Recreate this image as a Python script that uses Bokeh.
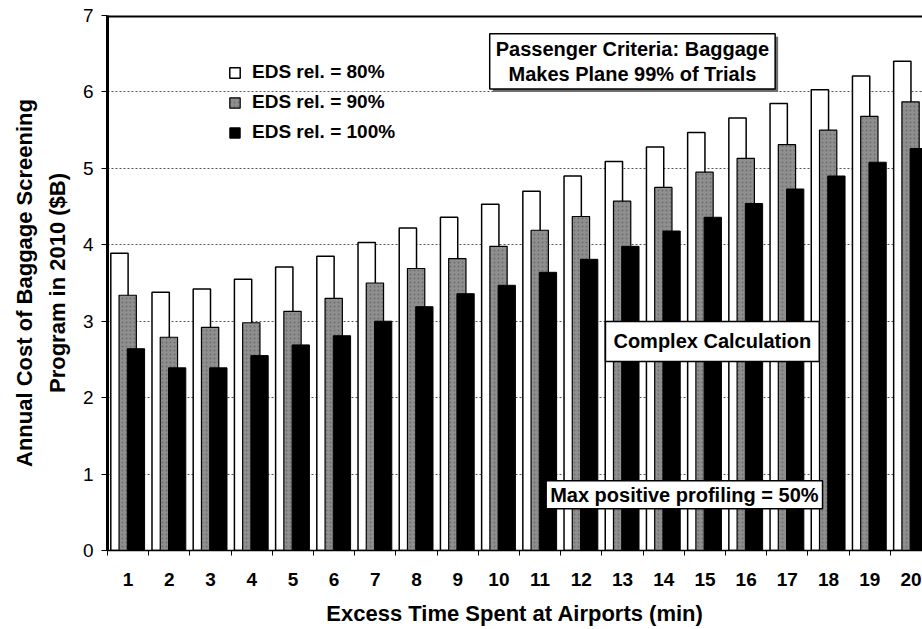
from bokeh.plotting import figure
from bokeh.models import (FixedTicker, Label, Legend, LegendItem, Span,
                          ColumnDataSource)
from bokeh.transform import dodge
from bokeh.embed import file_html
from bokeh.resources import INLINE

# ---- data ----
minutes = list(range(1, 21))
tick_labels = [str(m) for m in minutes]
eds80 = [3.89, 3.38, 3.42, 3.55, 3.71, 3.85, 4.03, 4.22, 4.36, 4.53,
         4.70, 4.90, 5.09, 5.28, 5.47, 5.66, 5.85, 6.03, 6.21, 6.40]
eds90 = [3.34, 2.79, 2.92, 2.98, 3.13, 3.30, 3.50, 3.69, 3.82, 3.98,
         4.19, 4.37, 4.57, 4.75, 4.95, 5.13, 5.31, 5.50, 5.68, 5.87]
eds100 = [2.64, 2.39, 2.39, 2.55, 2.69, 2.81, 3.00, 3.19, 3.36, 3.47,
          3.64, 3.81, 3.98, 4.18, 4.36, 4.54, 4.73, 4.90, 5.08, 5.26]
series_names = ["EDS rel. = 80%", "EDS rel. = 90%", "EDS rel. = 100%"]

FONT = "Liberation Sans"

src = ColumnDataSource(dict(x=minutes, eds80=eds80, eds90=eds90, eds100=eds100))

p = figure(width=922, height=629, x_range=(0.5, 20.28), y_range=(0, 7),
           output_backend="svg", toolbar_location=None,
           min_border_left=107, min_border_right=0, min_border_top=15,
           min_border_bottom=79)
p.outline_line_color = None
p.background_fill_color = "white"
p.border_fill_color = "white"

bw = 0.42
r80 = p.vbar(x=dodge("x", -0.21, range=p.x_range), top="eds80", width=bw, source=src,
             fill_color="white", line_color="black", line_width=1.5)
r90 = p.vbar(x=dodge("x", -0.01, range=p.x_range), top="eds90", width=bw, source=src,
             fill_color="#8f8f8f", line_color="black", line_width=1.2,
             hatch_pattern="dot", hatch_color="#5a5a5a", hatch_scale=4, hatch_alpha=0.6)
r100 = p.vbar(x=dodge("x", 0.19, range=p.x_range), top="eds100", width=bw, source=src,
              fill_color="black", line_color="black", line_width=1)

# top border
p.add_layout(Span(location=7, dimension="width", line_color="black", line_width=4))

# grid
p.xgrid.visible = False
p.ygrid.grid_line_color = "#555555"
p.ygrid.grid_line_dash = "2 2"
p.ygrid.grid_line_width = 1
p.ygrid.ticker = FixedTicker(ticks=[1, 2, 3, 4, 5, 6])

# y axis
p.yaxis.ticker = FixedTicker(ticks=[0, 1, 2, 3, 4, 5, 6, 7])
p.yaxis.axis_line_width = 3
p.yaxis.major_tick_out = 6
p.yaxis.major_tick_in = 0
p.yaxis.minor_tick_line_color = None
p.yaxis.major_label_text_font = FONT
p.yaxis.major_label_text_font_size = "19px"
p.yaxis.major_label_text_color = "black"
p.yaxis.major_label_standoff = 8
p.yaxis.axis_label = "Annual Cost of Baggage Screening\nProgram in 2010 ($B)"
p.yaxis.axis_label_text_font = FONT
p.yaxis.axis_label_text_font_size = "22px"
p.yaxis.axis_label_text_font_style = "bold"
p.yaxis.axis_label_text_color = "black"
p.yaxis.axis_label_text_line_height = 1.3
p.yaxis.axis_label_standoff = 10

# x axis
p.xaxis.ticker = FixedTicker(ticks=minutes, minor_ticks=[m - 0.5 for m in minutes] + [20.5])
p.xaxis.major_label_overrides = {m: t for m, t in zip(minutes, tick_labels)}
p.xaxis.major_tick_line_color = None
p.xaxis.major_tick_out = 0
p.xaxis.major_tick_in = 0
p.xaxis.minor_tick_out = 5
p.xaxis.minor_tick_in = 0
p.xaxis.minor_tick_line_color = "black"
p.xaxis.axis_line_width = 1.5
p.xaxis.major_label_text_font = FONT
p.xaxis.major_label_text_font_size = "19px"
p.xaxis.major_label_text_font_style = "bold"
p.xaxis.major_label_text_color = "black"
p.xaxis.major_label_standoff = 17
p.xaxis.axis_label = "Excess Time Spent at Airports (min)"
p.xaxis.axis_label_text_font = FONT
p.xaxis.axis_label_text_font_size = "22px"
p.xaxis.axis_label_text_font_style = "bold"
p.xaxis.axis_label_text_color = "black"
p.xaxis.axis_label_standoff = 12

# legend
legend = Legend(items=[LegendItem(label=series_names[0], renderers=[r80]),
                       LegendItem(label=series_names[1], renderers=[r90]),
                       LegendItem(label=series_names[2], renderers=[r100])],
                location=(121, 407), orientation="vertical",
                background_fill_alpha=0, border_line_color=None,
                label_text_font=FONT, label_text_font_size="19px",
                label_text_font_style="bold", label_text_color="black",
                glyph_width=13, glyph_height=13, label_height=21,
                spacing=8, padding=0, margin=0, label_standoff=11)
p.add_layout(legend)

# annotation boxes
def boxed(x, y, text, size, pad, shadow=False):
    if shadow:
        p.add_layout(Label(x=x, y=y, x_offset=3, y_offset=-3, text=text,
                           text_align="center", text_baseline="middle",
                           text_font=FONT, text_font_size=size, text_font_style="bold",
                           text_color="#6e6e6e", background_fill_color="#6e6e6e",
                           padding=pad, text_line_height=1.15))
    p.add_layout(Label(x=x, y=y, text=text, text_align="center", text_baseline="middle",
                       text_font=FONT, text_font_size=size, text_font_style="bold",
                       text_color="black", background_fill_color="white",
                       border_line_color="black", border_line_width=1.5,
                       padding=pad, text_line_height=1.15))

boxed(13.24, 6.40, "Passenger Criteria: Baggage\nMakes Plane 99% of Trials", "20px",
      dict(left=6, right=6, top=4, bottom=4), shadow=True)
boxed(15.18, 2.735, "Complex Calculation", "20px", dict(left=8, right=8, top=9, bottom=9))
boxed(14.5, 0.73, "Max positive profiling = 50%", "20px", dict(left=4, right=4, top=3, bottom=3))

open("out.html", "w").write(file_html(p, INLINE))
